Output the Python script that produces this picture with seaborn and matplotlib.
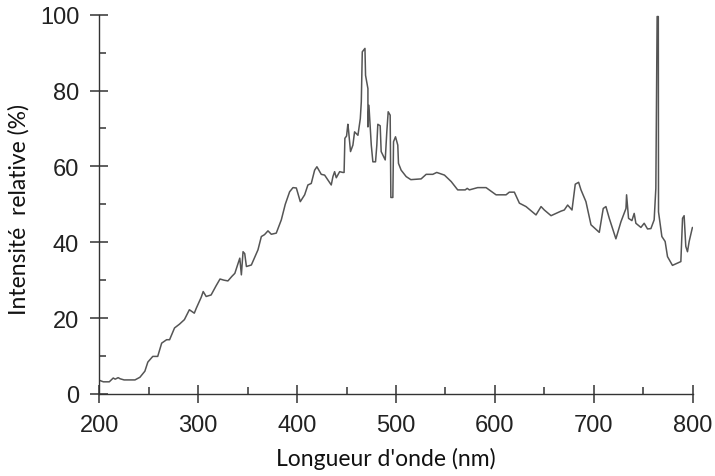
import matplotlib
matplotlib.use("Agg")
import matplotlib.pyplot as plt
from matplotlib.ticker import MultipleLocator
import pandas as pd
import seaborn as sns

# spectre (longueur d'onde en nm, intensité relative en %)
wavelength = [
    200, 204, 210, 214, 216, 219, 221, 225, 236, 241, 246, 249, 254, 259, 263,
    268, 271, 276, 281, 286, 291, 296, 298, 303, 305, 308, 313, 318, 322, 326,
    330, 334, 337, 341, 342, 343.6, 345.3, 347, 348.7, 353.7, 360.4, 363.8, 367,
    370.5, 373.9, 378.9, 384, 388, 392.4, 395.8, 399.2, 403.2, 407.6, 410.9,
    414.3, 417.7, 420, 424.4, 427.8, 434.5, 436.2, 437.9, 439.6, 443, 446.3,
    447.5, 448.3, 450, 451.3, 452, 454, 456.4, 458.1, 461.5, 463.9, 464.9, 465.9,
    468.6, 469.2, 471.6, 471.6, 472.6, 475, 476.6, 479.3, 480.6, 481.6, 484, 485,
    489.1, 490.7, 492.1, 494.1, 494.8, 496.8, 497.5, 499.5, 501.8, 502.5, 505.2,
    510.3, 515, 525.4, 530.5, 537.2, 541.2, 549, 555.8, 562.4, 570, 572, 574.2,
    582.6, 591.1, 601.2, 611.3, 614.6, 619.7, 624.8, 631.5, 641.6, 646.7, 650,
    656.8, 666.9, 670.2, 673.6, 678, 681.3, 684.7, 687.1, 692.1, 697.2, 705.6,
    709.6, 712.3, 715.7, 722.4, 727.5, 732.6, 733.2, 735.2, 738.6, 740.9, 742.6,
    747.7, 751, 754.4, 757.8, 761.1, 762.8, 764.1, 765.3, 765.5, 768.9, 772.2,
    774.6, 779.6, 788.1, 789.8, 791.4, 793.1, 794.8, 796.5, 799.8,
]
intensity = [
    3.6, 3.2, 3.2, 4.2, 3.9, 4.3, 4.0, 3.7, 3.7, 4.4, 6.0, 8.4, 9.9, 9.9, 13.4,
    14.3, 14.3, 17.4, 18.4, 19.6, 22.2, 21.3, 22.6, 25.5, 27.0, 25.7, 26.1, 28.5,
    30.3, 30.0, 29.8, 31.0, 31.8, 35.0, 35.8, 31.4, 37.5, 37.0, 33.6, 34.0, 38.0,
    41.5, 42.0, 43.0, 42.1, 42.4, 45.9, 50.0, 53.3, 54.4, 54.3, 50.7, 52.5, 55.1,
    55.5, 59.0, 59.9, 57.9, 57.7, 55.1, 57.3, 58.6, 57.0, 58.6, 58.4, 58.4, 67.4,
    68.0, 71.1, 69.5, 63.9, 65.6, 69.1, 68.2, 72.6, 77.0, 90.2, 91.1, 84.0, 80.5,
    70.4, 76.1, 65.6, 61.2, 61.2, 65.6, 71.1, 70.7, 63.9, 61.7, 69.1, 74.4, 73.5,
    51.8, 51.8, 66.5, 67.8, 65.6, 60.8, 59.0, 57.3, 56.5, 56.7, 57.9, 57.9, 58.4,
    57.7, 56.0, 53.8, 53.8, 54.2, 53.8, 54.4, 54.4, 52.5, 52.5, 53.2, 53.2, 50.3,
    49.4, 47.2, 49.4, 48.5, 47.0, 48.2, 48.5, 49.8, 48.5, 55.3, 55.8, 53.8, 50.7,
    44.6, 42.6, 48.9, 49.4, 46.3, 40.9, 45.4, 48.9, 52.5, 46.3, 45.7, 47.6, 45.0,
    43.9, 45.0, 43.5, 43.6, 45.9, 54.2, 99.5, 99.5, 48.0, 41.5, 40.2, 36.2, 33.9,
    34.9, 46.3, 47.0, 38.9, 37.5, 40.2, 43.9,
]

df = pd.DataFrame({"wavelength": wavelength, "intensity": intensity})

sns.set_style("ticks")
plt.rcParams["font.family"] = ["Liberation Sans", "DejaVu Sans"]

fig = plt.figure(figsize=(7.15, 4.77), dpi=100)
ax = fig.add_axes([0.139, 0.172, 0.8297, 0.7952])

sns.lineplot(data=df, x="wavelength", y="intensity", ax=ax,
             estimator=None, sort=False, color="#555555", linewidth=1.1)

ax.set_xlim(200, 800)
ax.set_ylim(0, 100)
ax.xaxis.set_major_locator(MultipleLocator(100))
ax.xaxis.set_minor_locator(MultipleLocator(50))
ax.yaxis.set_major_locator(MultipleLocator(20))
ax.yaxis.set_minor_locator(MultipleLocator(10))

ax.tick_params(which="major", direction="inout", length=13, width=1.1,
               labelsize=17, pad=8, color="#333333", labelcolor="#222222")
ax.tick_params(which="minor", direction="in", length=5, width=1.1,
               color="#333333")
sns.despine(ax=ax)
for side in ["left", "bottom"]:
    ax.spines[side].set_linewidth(1.0)
    ax.spines[side].set_color("#333333")

ax.set_xlabel("Longueur d'onde (nm)", family=["Lato", "DejaVu Sans"],
              fontsize=16.5, color="#111111")
ax.set_ylabel("Intensité  relative (%)", family=["Lato", "DejaVu Sans"],
              fontsize=16.5, color="#111111")
ax.xaxis.set_label_coords(0.482, -0.14)
ax.yaxis.set_label_coords(-0.117, 0.49)

fig.savefig("out.png", dpi=100)
